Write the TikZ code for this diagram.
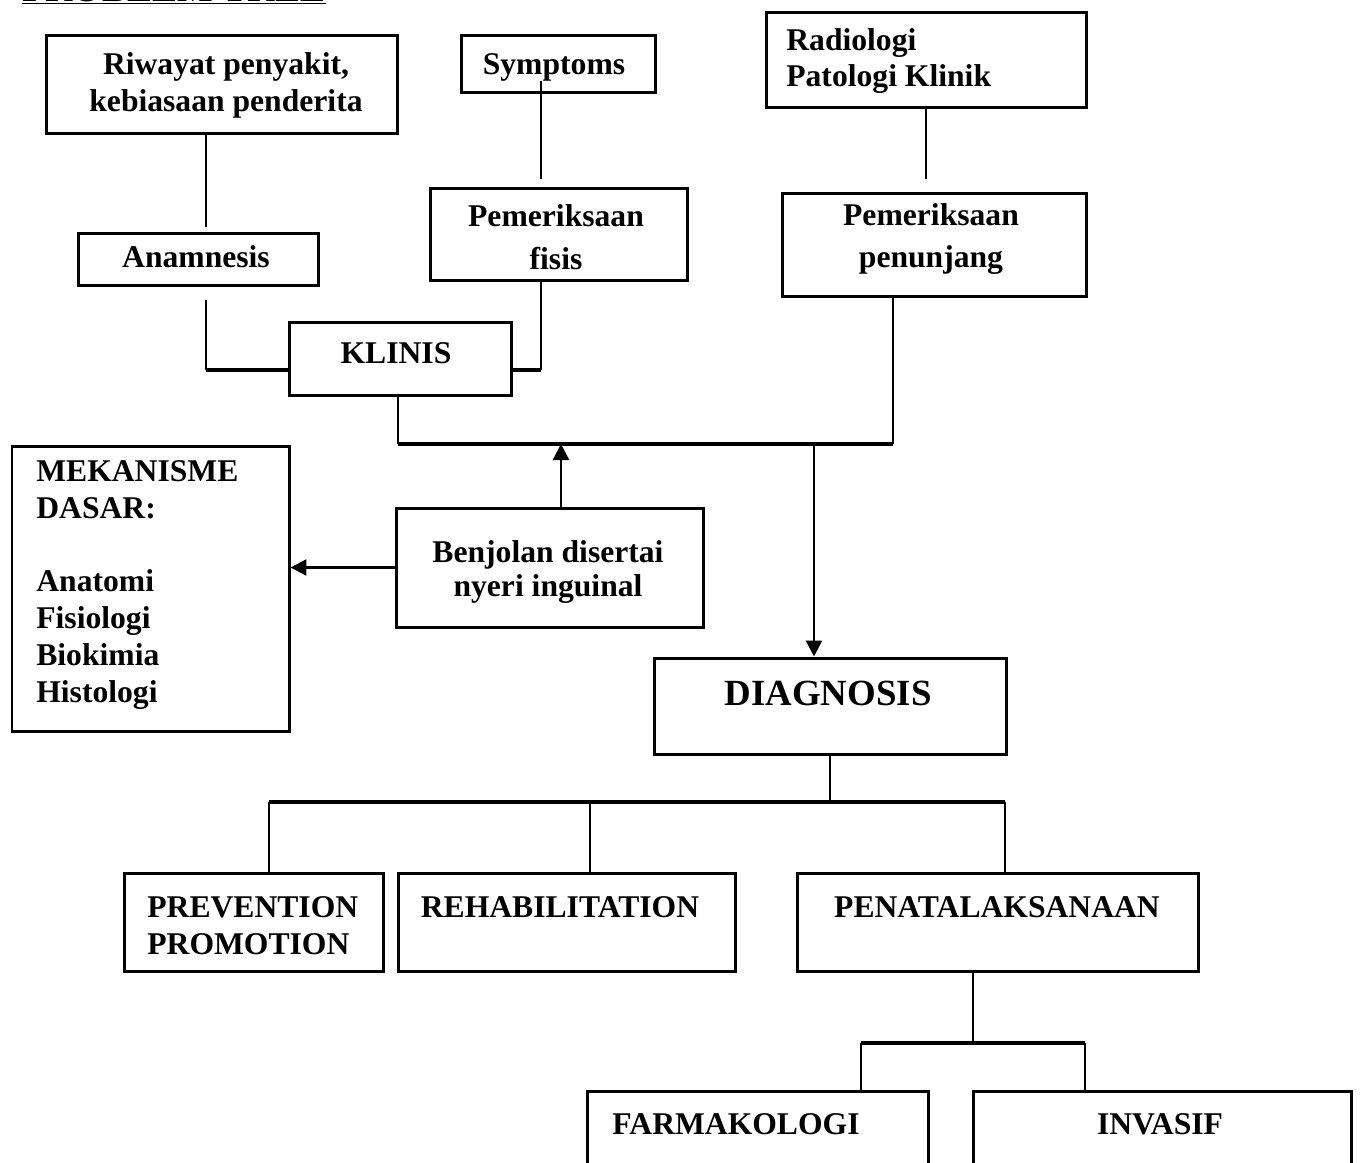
\documentclass[tikz,border=0pt]{standalone}
\usepackage{fontspec}
\setmainfont{Liberation Serif}
\usetikzlibrary{
  arrows.meta,  % Tip "Triangle"
}
\newdimen\pxu
\pxu=0.02cm
\tikzset{
  box/.style={
    draw,
    line width=0.06cm,
    inner sep=0pt
  },
  size/.style 2 args={
    minimum width=#1\pxu,
    minimum height=#2\pxu
  },
  lbl/.style={
    font=\bfseries\fontsize{18}{21}\selectfont,
    inner sep=0pt,
    align=center
  },
  big/.style={
    font=\bfseries\fontsize{21}{25}\selectfont,
    inner sep=0pt
  },
  link/.style={line width=0.022cm},
  bar/.style={line width=0.065cm},
  arr/.style={
    line width=0.045cm,
    -{Triangle[length=0.32cm,width=0.32cm]}
  }
}

\begin{document}
\begin{tikzpicture}[x=0.02cm,y=-0.02cm]
\useasboundingbox (0,0) rectangle (1360,1163);
% title, mostly above the page edge
\node[anchor=base west,inner sep=0pt,
      font=\bfseries\fontsize{21.5}{26}\selectfont] (title) at (22,1)
      {\underline{PROBLEM TREE}};
% boxes
\node[box,size={351}{98}]  (riwayat) at (221.5,84)    {};
\node[box,size={194}{57}]  (sympt)   at (558,63.5)    {};
\node[box,size={320}{95}]  (radio)   at (926,59.5)    {};
\node[box,size={240}{52}]  (anam)    at (198,259)     {};
\node[box,size={257}{92}]  (fisis)   at (558.5,234)   {};
\node[box,size={304}{103}] (penunj)  at (934,244.5)   {};
\node[box,size={222}{73}]  (klinis)  at (400,358.5)   {};
\node[box,size={277}{285}] (mek)     at (150.5,588.5) {};
\node[box,size={307}{119}] (benj)    at (549.5,567.5) {};
\node[box,size={352}{96}]  (diag)    at (830,706)     {};
\node[box,size={259}{98}]  (prev)    at (253.5,922)   {};
\node[box,size={337}{98}]  (rehab)   at (566.5,922)   {};
\node[box,size={401}{98}]  (pena)    at (997.5,922)   {};
\node[box,size={341}{109}] (farm)    at (757.5,1145.5){};
\node[box,size={378}{109}] (inv)     at (1162,1145.5) {};
% texts
\node[lbl] (riwayattxt) at (226,85)  {Riwayat penyakit,\\kebiasaan penderita};
\node[lbl] (symptxt)    at (554,67)  {Symptoms};
\node[lbl,anchor=west,align=left] (radiotxt) at (786,61)
           {Radiologi\\Patologi Klinik};
\node[lbl] (anamtxt)    at (196,257) {Anamnesis};
\node[lbl] (fisistxt)   at (556,237) {Pemeriksaan\\[0.12cm]fisis};
\node[lbl] (penunjtxt)  at (931,239) {Pemeriksaan\\[0.12cm]penunjang};
\node[lbl] (klinistxt)  at (396,353) {KLINIS};
\node[lbl,anchor=west,align=left] (mektxt) at (36,585)
           {MEKANISME\\DASAR:\\[21pt]Anatomi\\Fisiologi\\Biokimia\\Histologi};
\node[lbl] (benjtxt)    at (548,572) {Benjolan disertai\\[-2pt]nyeri inguinal};
\node[big] (diagtxt)    at (828,693) {DIAGNOSIS};
\node[lbl,anchor=west,align=left] (prevtxt) at (147,926)
           {PREVENTION\\PROMOTION};
\node[lbl] (rehabtxt)   at (560,907)  {REHABILITATION};
\node[lbl] (penatxt)    at (997,907)  {PENATALAKSANAAN};
\node[lbl] (farmtxt)    at (736,1124) {FARMAKOLOGI};
\node[lbl] (invtxt)     at (1160,1124){INVASIF};
% junctions
\coordinate (jA) at (206,370);
\coordinate (jB) at (541,370);
\coordinate (jL) at (398,444);
\coordinate (jR) at (893,444);
\coordinate (jU) at (561,444);
\coordinate (jD) at (814,444);
\coordinate (jE) at (830,802);
\coordinate (jP) at (269,802);
\coordinate (jQ) at (590,802);
\coordinate (jS) at (1005,802);
\coordinate (jF) at (973,1043);
\coordinate (jG) at (861,1043);
\coordinate (jH) at (1085,1043);
% connectors
\draw[link,shorten >=0.1cm]  (riwayat.south -| jA) -- (anam.north -| jA);
\draw[link,shorten >=0.16cm] (symptxt.south -| jB) -- (fisis.north -| jB);
\draw[link,shorten >=0.26cm] (radio.south) -- (radio.south |- penunj.north);
\draw[link,shorten <=0.26cm] (anam.south -| jA) -- (jA);
\draw[bar]  (jA) -- (klinis.west |- jA);
\draw[link] (fisis.south -| jB) -- (jB);
\draw[bar]  (klinis.east |- jB) -- (jB);
\draw[link] (klinis.south -| jL) -- (jL);
\draw[bar]  (jL) -- (jR);
\draw[link] (jR) -- (penunj.south -| jR);
\draw[arr]  (benj.north -| jU) -- (jU);
\draw[arr]  (jD) -- (diag.north -| jD);
\draw[arr]  (benj.west) -- (mek.east |- benj.west);
\draw[link] (diag.south) -- (jE);
\draw[bar]  (jP) -- (jS);
\draw[link] (jP) -- (prev.north -| jP);
\draw[link] (jQ) -- (rehab.north -| jQ);
\draw[link] (jS) -- (pena.north -| jS);
\draw[link] (pena.south -| jF) -- (jF);
\draw[bar]  (jG) -- (jH);
\draw[link] (jG) -- (farm.north -| jG);
\draw[link] (jH) -- (inv.north -| jH);
\end{tikzpicture}
\end{document}
